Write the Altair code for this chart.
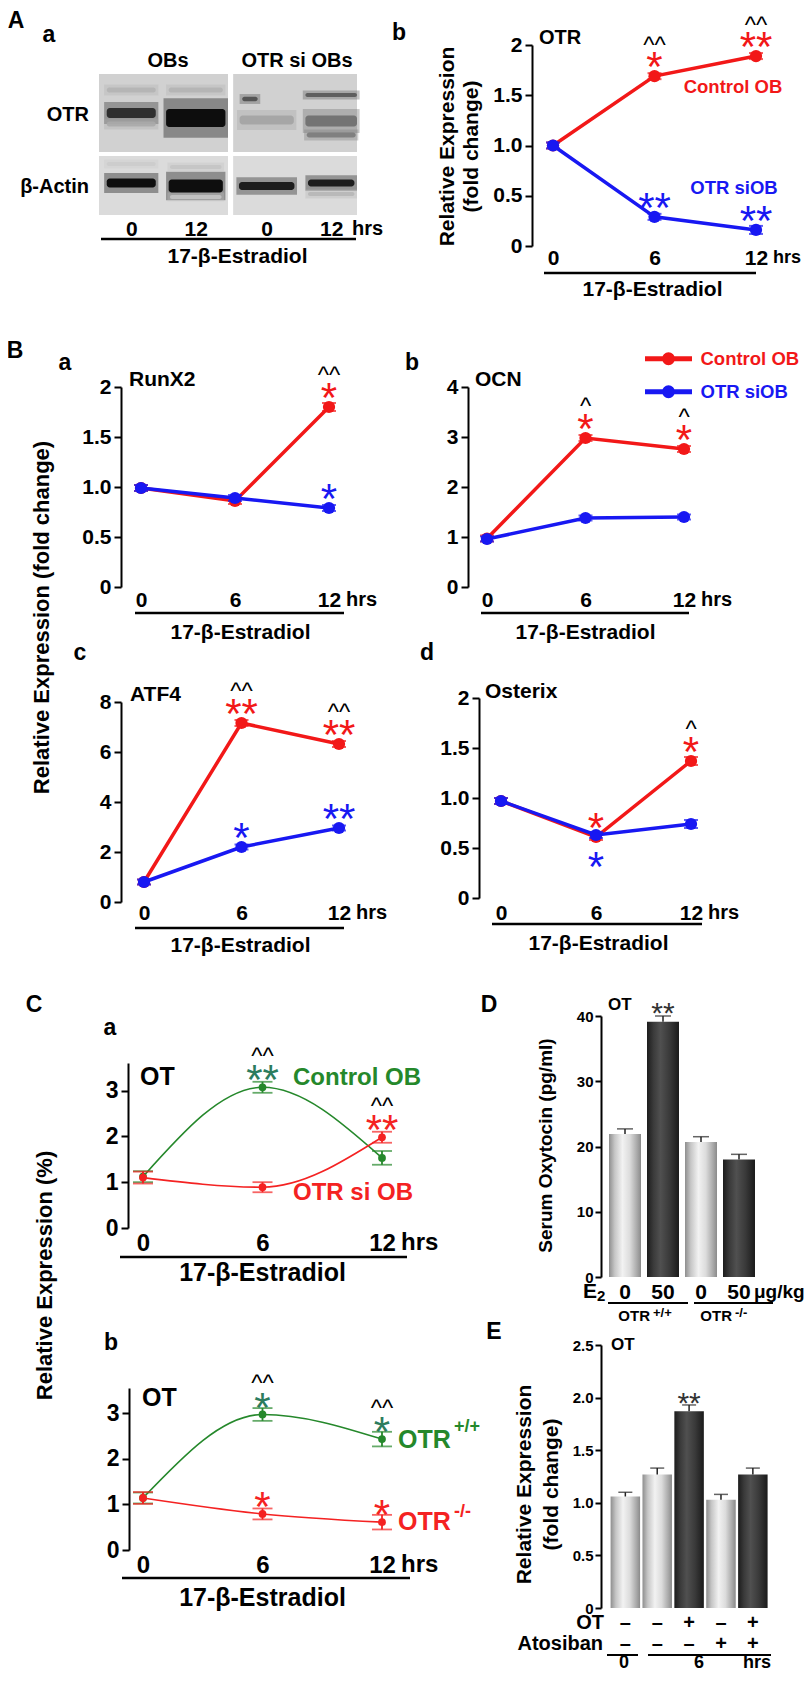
import altair as alt
import pandas as pd

W, H = 796, 1667
M = 8


def p(v):
    return v - M


FONT = "Liberation Sans, Arial, Helvetica, sans-serif"
RED = "#f21818"
BLUE = "#1818f2"
CGREEN = "#25882b"
GSTAR = "#2c7c5e"
CRED = "#f42222"

hours = [0, 6, 12]

# ---------------- data ----------------
# A(b) OTR
ab_ctrl = [1.00, 1.69, 1.89]
ab_ctrl_err = [0.03, 0.03, 0.03]
ab_si = [1.00, 0.29, 0.16]
ab_si_err = [0.03, 0.03, 0.04]
# B(a) RunX2
ba_ctrl = [0.99, 0.86, 1.80]
ba_ctrl_err = [0.03, 0.03, 0.04]
ba_si = [0.99, 0.89, 0.79]
ba_si_err = [0.03, 0.03, 0.03]
# B(b) OCN
bb_ctrl = [0.97, 2.98, 2.76]
bb_ctrl_err = [0.06, 0.06, 0.06]
bb_si = [0.96, 1.38, 1.40]
bb_si_err = [0.05, 0.05, 0.05]
# B(c) ATF4
bc_ctrl = [0.80, 7.16, 6.32]
bc_ctrl_err = [0.1, 0.12, 0.12]
bc_si = [0.80, 2.20, 2.96]
bc_si_err = [0.1, 0.1, 0.1]
# B(d) Osterix
bd_ctrl = [0.97, 0.61, 1.37]
bd_ctrl_err = [0.03, 0.03, 0.04]
bd_si = [0.97, 0.63, 0.74]
bd_si_err = [0.03, 0.03, 0.04]
# C(a) OT
ca_ctrl = [1.12, 3.07, 1.53]
ca_ctrl_err = [0.12, 0.12, 0.15]
ca_si = [1.10, 0.89, 1.98]
ca_si_err = [0.13, 0.11, 0.12]
# C(b) OT
cb_ctrl = [1.14, 2.97, 2.43]
cb_ctrl_err = [0.12, 0.14, 0.16]
cb_si = [1.14, 0.79, 0.61]
cb_si_err = [0.13, 0.12, 0.16]
# D serum oxytocin
d_geno = ["OTR +/+", "OTR +/+", "OTR -/-", "OTR -/-"]
d_dose = [0, 50, 0, 50]
d_val = [21.9, 39.1, 20.7, 18.0]
d_err = [0.8, 0.9, 0.8, 0.8]
d_sig = ["", "**", "", ""]
# E OT expression
e_time = [0, 6, 6, 6, 6]
e_ot = ["–", "–", "+", "–", "+"]
e_ato = ["–", "–", "–", "+", "+"]
e_val = [1.06, 1.27, 1.87, 1.03, 1.27]
e_err = [0.04, 0.06, 0.06, 0.05, 0.06]
e_sig = ["", "", "**", "", ""]
# western blot (A a): lane index, migration, half width, thickness, intensity
lanes = [0.5, 1.5, 2.6, 3.6]
lane_labels = ["0", "12", "0", "12"]
band_lane = [0, 1, 2, 3, 0, 1, 2, 3, 0, 3, 0, 1, 2, 3, 0, 1, 1, 3]
band_shift = [0, 0, 0, 0, 0, 0, -0.26, 0, 0, 0, 0, 0, 0, 0, 0, 0, 0, 0]
band_mig = [3.9, 4.4, 4.6, 4.7, 1.6, 1.6, 2.5, 2.1, 5.0, 6.1,
            10.9, 11.2, 11.2, 10.9, 9.0, 9.3, 12.3, 12.0]
band_hw = [0.38, 0.46, 0.42, 0.40, 0.38, 0.42, 0.12, 0.40, 0.38, 0.38,
           0.38, 0.42, 0.43, 0.36, 0.38, 0.40, 0.40, 0.36]
band_th = [1.0, 1.8, 0.9, 1.1, 0.5, 0.5, 0.45, 0.4, 0.5, 0.5,
           0.9, 1.3, 0.8, 0.7, 0.4, 0.4, 0.4, 0.4]
band_int = [0.85, 1.0, 0.28, 0.5, 0.22, 0.22, 0.65, 0.6, 0.25, 0.45,
            1.0, 1.0, 0.95, 0.95, 0.12, 0.15, 0.15, 0.2]

DUMMY = pd.DataFrame({"k": [0]})


def sdf(vals, errs, name, sig=None, hat=None, below=None):
    n = len(vals)
    d = pd.DataFrame({"hrs": hours, "value": vals, "err": errs, "series": [name] * n,
                      "sig": sig or [""] * n, "hat": hat or [""] * n, "below": below or [""] * n})
    d["lo"] = d["value"] - d["err"]
    d["hi"] = d["value"] + d["err"]
    return d


def yaxis_kw(axis_x, values, expr, fs, tick=7, pad=3):
    return dict(orient="left", offset=-p(axis_x), values=values, labelExpr=expr,
                domain=True, domainColor="black", domainWidth=2, ticks=True, tickColor="black",
                tickWidth=2, tickSize=tick, labelFont=FONT, labelFontSize=fs, labelFontWeight="bold",
                labelColor="black", labelPadding=pad, grid=False, labelFlush=False, labelOverlap=False)


def add_ytitle(kw, axis_x, tx, ty, fs, lh=24):
    kw.update(titleX=tx - axis_x, titleY=p(ty), titleAngle=270, titleAlign="center",
              titleBaseline="middle", titleFont=FONT, titleFontSize=fs, titleFontWeight="bold",
              titleColor="black", titleLineHeight=lh)
    return kw


def xaxis_kw(lab_y, fs, values=None, expr=None, tx=None, ty=None, tfs=21):
    kw = dict(orient="bottom", offset=p(lab_y) - H, domain=False, ticks=False, tickSize=0,
              labelPadding=0, labelBaseline="middle", labelAngle=0, labelFont=FONT, labelFontSize=fs,
              labelFontWeight="bold", labelColor="black", labelFlush=False, labelOverlap=False, grid=False)
    if values is not None:
        kw["values"] = values
    if expr is not None:
        kw["labelExpr"] = expr
    if tx is not None:
        kw.update(titleX=p(tx), titleY=ty - lab_y, titleAlign="center", titleBaseline="middle",
                  titleFont=FONT, titleFontSize=tfs, titleFontWeight="bold", titleColor="black")
    return kw


def txt(s, x, y, fs, color="black", align="left", weight="bold", baseline="middle"):
    return alt.Chart(DUMMY).mark_text(text=s, font=FONT, fontSize=fs, color=color, align=align,
                                      fontWeight=weight, baseline=baseline).encode(
        x=alt.value(p(x)), y=alt.value(p(y)))


def hline(x1, x2, y, w=2.5):
    return alt.Chart(DUMMY).mark_rule(color="black", strokeWidth=w).encode(
        x=alt.value(p(x1)), x2=alt.value(p(x2)), y=alt.value(p(y)))


def line_panel(c):
    xsc = alt.Scale(domain=[0, 12], range=[p(c["x0"]), p(c["x12"])], nice=False, zero=False)
    ysc = alt.Scale(domain=c["ydom"], range=[p(c["ybot"]), p(c["ytop"])], nice=False, zero=False)
    ykw = yaxis_kw(c["axis_x"], c["yvals"], c["yexpr"], c["yfs"])
    if c.get("ytitle") is not None:
        add_ytitle(ykw, c["axis_x"], c["ytx"], c["yty"], c["ytfs"], c.get("ylh", 24))
    xkw = xaxis_kw(c["xlab_y"], c["xfs"], values=hours, tx=c["tx"], ty=c["ty"], tfs=c["tfs"])
    Xn = alt.X("hrs:Q", scale=xsc, axis=None)
    Yv = alt.Y("value:Q", scale=ysc, axis=None)
    Ylo = alt.Y("lo:Q", scale=ysc, axis=None)
    Yhi = alt.Y("hi:Q", scale=ysc, axis=None)
    layers = []
    for i, s in enumerate(c["series"]):
        base = alt.Chart(s["df"])
        col = s["color"]
        if i == 0:
            X = alt.X("hrs:Q", scale=xsc, axis=alt.Axis(**xkw), title="17-β-Estradiol")
            Y = alt.Y("value:Q", scale=ysc, axis=alt.Axis(**ykw), title=c.get("ytitle"))
        else:
            X = Xn
            Y = Yv
        enc = dict(x=X, y=Y)
        if "legend" in s:
            enc["color"] = alt.Color("series:N", scale=alt.Scale(domain=[s["name"]], range=[col]),
                                     legend=s["legend"])
            line = base.mark_line(strokeWidth=c["lw"], interpolate=c["interp"]).encode(**enc)
        else:
            line = base.mark_line(color=col, strokeWidth=c["lw"], interpolate=c["interp"]).encode(**enc)
        rule = base.mark_rule(color=col, strokeWidth=c["ew"]).encode(x=Xn, y=Ylo, y2=alt.Y2("hi"))
        c1 = base.mark_tick(color=col, orient="horizontal", size=c["cap"], thickness=c["ew"]).encode(x=Xn, y=Ylo)
        c2 = base.mark_tick(color=col, orient="horizontal", size=c["cap"], thickness=c["ew"]).encode(x=Xn, y=Yhi)
        pts = base.mark_point(filled=True, opacity=1, size=c["pt"], color=col).encode(x=Xn, y=Yv)
        sc = s.get("star_color", col)
        sfs, hfs = c["star_fs"], c["hat_fs"]
        sig = base.mark_text(font=FONT, fontSize=sfs, color=sc, baseline="alphabetic",
                             dy=c["star_dy"] + 0.575 * sfs).encode(x=Xn, y=Yv, text="sig:N")
        hat = base.mark_text(font=FONT, fontSize=hfs, color="black", baseline="alphabetic",
                             dy=c["hat_dy"] + 0.52 * hfs).encode(x=Xn, y=Yv, text="hat:N")
        below = base.mark_text(font=FONT, fontSize=sfs, color=sc, baseline="alphabetic",
                               dy=c["below_dy"] + 0.575 * sfs).encode(x=Xn, y=Yv, text="below:N")
        layers += [line, rule, c1, c2, pts, sig, hat, below]
    return layers


AB_STYLE = dict(lw=3.5, pt=150, cap=14, ew=2, interp="linear", star_fs=42, hat_fs=24,
                star_dy=-19, hat_dy=-36, below_dy=22, xfs=21, tfs=21, yfs=21)
C_STYLE = dict(lw=1.6, pt=60, cap=20, ew=1.8, interp="monotone", star_fs=42, hat_fs=24,
               star_dy=-17, hat_dy=-36, below_dy=22, xfs=24, tfs=25, yfs=23)
E1 = "datum.value == 0 || datum.value == 2 ? format(datum.value, 'd') : format(datum.value, '.1f')"

LEG_PATH = "M-2,0L2,0M-0.34,0A0.34,0.34,0,1,1,0.34,0A0.34,0.34,0,1,1,-0.34,0Z"


def legend(color, y):
    return alt.Legend(orient="none", legendX=p(654), legendY=p(y - 11.75), title=None,
                      symbolType=LEG_PATH, symbolSize=552, symbolStrokeWidth=5,
                      symbolFillColor=color, symbolStrokeColor=color, labelFont=FONT,
                      labelFontSize=18.5, labelFontWeight="bold", labelColor=color,
                      labelOffset=17.5, padding=0)


units = []

# ---- A(b)
units += line_panel(dict(
    AB_STYLE,
    series=[dict(df=sdf(ab_ctrl, ab_ctrl_err, "Control OB", ["", "*", "**"], ["", "^^", "^^"]), color=RED),
            dict(df=sdf(ab_si, ab_si_err, "OTR siOB", ["", "**", "**"]), color=BLUE)],
    x0=553, x12=756, ydom=[0, 2], ybot=246, ytop=45, axis_x=532,
    yvals=[0, 0.5, 1, 1.5, 2], yexpr=E1,
    xlab_y=258, tx=652, ty=289,
    ytitle=["Relative Expression", "(fold change)"], ytx=447, yty=146, ytfs=21, ylh=24))

# ---- B(a)
units += line_panel(dict(
    AB_STYLE,
    series=[dict(df=sdf(ba_ctrl, ba_ctrl_err, "Control OB", ["", "", "*"], ["", "", "^^"]), color=RED),
            dict(df=sdf(ba_si, ba_si_err, "OTR siOB", ["", "", "*"]), color=BLUE)],
    x0=141, x12=329, ydom=[0, 2], ybot=587, ytop=387, axis_x=121,
    yvals=[0, 0.5, 1, 1.5, 2], yexpr=E1,
    xlab_y=600, tx=240, ty=632,
    ytitle="Relative Expression  (fold change)", ytx=41, yty=617, ytfs=22))

# ---- B(b) with legend
units += line_panel(dict(
    AB_STYLE,
    series=[dict(df=sdf(bb_ctrl, bb_ctrl_err, "Control OB", ["", "*", "*"], ["", "^", "^"]), color=RED,
                 name="Control OB", legend=legend(RED, 356)),
            dict(df=sdf(bb_si, bb_si_err, "OTR siOB"), color=BLUE,
                 name="OTR siOB", legend=legend(BLUE, 389))],
    x0=487, x12=684, ydom=[0, 4], ybot=587, ytop=387, axis_x=468,
    yvals=[0, 1, 2, 3, 4], yexpr="datum.label",
    xlab_y=600, tx=585, ty=632))

# ---- B(c)
units += line_panel(dict(
    AB_STYLE,
    series=[dict(df=sdf(bc_ctrl, bc_ctrl_err, "Control OB", ["", "**", "**"], ["", "^^", "^^"]), color=RED),
            dict(df=sdf(bc_si, bc_si_err, "OTR siOB", ["", "*", "**"]), color=BLUE)],
    x0=144, x12=339, ydom=[0, 8], ybot=902, ytop=702, axis_x=121,
    yvals=[0, 2, 4, 6, 8], yexpr="datum.label",
    xlab_y=913, tx=240, ty=945))

# ---- B(d)
units += line_panel(dict(
    AB_STYLE,
    series=[dict(df=sdf(bd_ctrl, bd_ctrl_err, "Control OB", ["", "*", "*"], ["", "", "^"]), color=RED),
            dict(df=sdf(bd_si, bd_si_err, "OTR siOB", below=["", "*", ""]), color=BLUE)],
    x0=501, x12=691, ydom=[0, 2], ybot=898, ytop=698, axis_x=479,
    yvals=[0, 0.5, 1, 1.5, 2], yexpr=E1,
    xlab_y=913, tx=598, ty=943))

# ---- C(a)
units += line_panel(dict(
    C_STYLE,
    series=[dict(df=sdf(ca_ctrl, ca_ctrl_err, "Control OB", ["", "**", ""], ["", "^^", ""]),
                 color=CGREEN, star_color=GSTAR),
            dict(df=sdf(ca_si, ca_si_err, "OTR si OB", ["", "", "**"], ["", "", "^^"]), color=CRED)],
    x0=143, x12=382, ydom=[0, 3.6], ybot=1228, ytop=1063, axis_x=128,
    yvals=[0, 1, 2, 3], yexpr="datum.label",
    xlab_y=1243, tx=262, ty=1272,
    ytitle="Relative Expression (%)", ytx=44, yty=1275, ytfs=22))

# ---- C(b)
units += line_panel(dict(
    C_STYLE,
    series=[dict(df=sdf(cb_ctrl, cb_ctrl_err, "OTR+/+", ["", "*", "*"], ["", "^^", "^^"]),
                 color=CGREEN, star_color=GSTAR),
            dict(df=sdf(cb_si, cb_si_err, "OTR-/-", ["", "*", "*"]), color=CRED)],
    x0=143, x12=382, ydom=[0, 3.55], ybot=1550, ytop=1388, axis_x=129,
    yvals=[0, 1, 2, 3], yexpr="datum.label",
    xlab_y=1565, tx=262, ty=1597))

# ---- gradients for bar panels
LIGHT = alt.LinearGradient(gradient="linear", x1=0, x2=1, y1=0, y2=0, stops=[
    alt.GradientStop(color="#8e8e8e", offset=0),
    alt.GradientStop(color="#c6c6c6", offset=0.18),
    alt.GradientStop(color="#f2f2f2", offset=0.42),
    alt.GradientStop(color="#dcdcdc", offset=0.65),
    alt.GradientStop(color="#a8a8a8", offset=0.88),
    alt.GradientStop(color="#8a8a8a", offset=1)])
DARK = alt.LinearGradient(gradient="linear", x1=0, x2=1, y1=0, y2=0, stops=[
    alt.GradientStop(color="#1c1c1c", offset=0),
    alt.GradientStop(color="#3a3a3a", offset=0.2),
    alt.GradientStop(color="#505050", offset=0.42),
    alt.GradientStop(color="#3a3a3a", offset=0.7),
    alt.GradientStop(color="#1a1a1a", offset=1)])

# ---- D
ddf = pd.DataFrame({"geno": d_geno, "dose": d_dose, "value": d_val, "err": d_err, "sig": d_sig})
ddf["key"] = ddf["geno"] + " " + ddf["dose"].astype(str)
ddf["hi"] = ddf["value"] + ddf["err"]
d_keys = list(ddf["key"])
dxs = alt.Scale(domain=d_keys, range=[p(606), p(758)], paddingInner=0.158, paddingOuter=0.079)
dys = alt.Scale(domain=[0, 40], range=[p(1277), p(1016)], nice=False)
dykw = add_ytitle(yaxis_kw(601, [0, 10, 20, 30, 40], "datum.label", 15, tick=6, pad=2), 601, 545, 1145, 19)
dxkw = xaxis_kw(1292, 21, expr="split(datum.value, ' ')[2]")
dX = alt.X("key:N", scale=dxs, axis=None)
dbase = alt.Chart(ddf)
units += [
    dbase.transform_filter("datum.dose == 0").mark_bar(color=LIGHT).encode(
        x=alt.X("key:N", scale=dxs, axis=alt.Axis(**dxkw), title=None),
        y=alt.Y("value:Q", scale=dys, axis=alt.Axis(**dykw), title="Serum Oxytocin (pg/ml)")),
    dbase.transform_filter("datum.dose == 50").mark_bar(color=DARK).encode(
        x=dX, y=alt.Y("value:Q", scale=dys, axis=None)),
    dbase.mark_rule(color="#222222", strokeWidth=1.5).encode(
        x=dX, y=alt.Y("value:Q", scale=dys, axis=None), y2=alt.Y2("hi")),
    dbase.mark_tick(color="#222222", orient="horizontal", size=16, thickness=1.5).encode(
        x=dX, y=alt.Y("hi:Q", scale=dys, axis=None)),
    dbase.mark_text(font=FONT, fontSize=30, color="#333333", baseline="alphabetic", dy=-10 + 0.575 * 30).encode(
        x=dX, y=alt.Y("hi:Q", scale=dys, axis=None), text="sig:N"),
]

# ---- E
edf = pd.DataFrame({"time": e_time, "ot": e_ot, "ato": e_ato, "value": e_val, "err": e_err, "sig": e_sig})
edf["key"] = edf["time"].astype(str) + " " + edf["ot"] + " " + edf["ato"]
edf["hi"] = edf["value"] + edf["err"]
e_keys = list(edf["key"])
exs = alt.Scale(domain=e_keys, range=[p(609.4), p(768.8)], paddingInner=0.075, paddingOuter=0.0375)
eys = alt.Scale(domain=[0, 2.5], range=[p(1608), p(1345)], nice=False)
eykw = add_ytitle(yaxis_kw(601, [0, 0.5, 1, 1.5, 2, 2.5],
                           "datum.value == 0 ? '0' : format(datum.value, '.1f')", 15, tick=6, pad=2),
                  601, 524, 1484, 21, lh=27)
eX = alt.X("key:N", scale=exs, axis=None)
ebase = alt.Chart(edf)
units += [
    ebase.transform_filter("datum.ot != '+'").mark_bar(color=LIGHT).encode(
        x=eX, y=alt.Y("value:Q", scale=eys, axis=alt.Axis(**eykw),
                      title=["Relative Expression", "(fold change)"])),
    ebase.transform_filter("datum.ot == '+'").mark_bar(color=DARK).encode(
        x=eX, y=alt.Y("value:Q", scale=eys, axis=None)),
    ebase.mark_rule(color="#222222", strokeWidth=1.5).encode(
        x=eX, y=alt.Y("value:Q", scale=eys, axis=None), y2=alt.Y2("hi")),
    ebase.mark_tick(color="#222222", orient="horizontal", size=14, thickness=1.5).encode(
        x=eX, y=alt.Y("hi:Q", scale=eys, axis=None)),
    ebase.mark_text(font=FONT, fontSize=30, color="#333333", baseline="alphabetic", dy=-9 + 0.575 * 30).encode(
        x=eX, y=alt.Y("hi:Q", scale=eys, axis=None), text="sig:N"),
    ebase.mark_text(font=FONT, fontSize=20, fontWeight="bold", color="black").encode(
        x=eX, y=alt.value(p(1623)), text="ot:N"),
    ebase.mark_text(font=FONT, fontSize=20, fontWeight="bold", color="black").encode(
        x=eX, y=alt.value(p(1644)), text="ato:N"),
]

# ---- blot (A a)
bx = alt.Scale(domain=[0, 4], range=[p(99), p(357)], nice=False, zero=False)
by = alt.Scale(domain=[0, 14.1], range=[p(74), p(215)], nice=False, zero=False)
tone = alt.Scale(domain=[0, 1], range=["#ebebeb", "#000000"])
mem = pd.DataFrame({"x0": [0, 2.08, 0, 2.08], "x1": [2.0, 4.0, 2.0, 4.0],
                    "y0": [0, 0, 8.2, 8.2], "y1": [7.8, 7.8, 14.1, 14.1], "inten": [0.1, 0.1, 0.06, 0.06]})
bands = pd.DataFrame({"x": [lanes[i] + s for i, s in zip(band_lane, band_shift)], "mig": band_mig,
                      "hw": band_hw, "th": band_th, "inten": band_int})
bands["bx0"] = bands["x"] - bands["hw"]
bands["bx1"] = bands["x"] + bands["hw"]
bands["by0"] = bands["mig"] - bands["th"] / 2
bands["by1"] = bands["mig"] + bands["th"] / 2
bands["hx0"] = bands["x"] - bands["hw"] - 0.04
bands["hx1"] = bands["x"] + bands["hw"] + 0.04
bands["hy0"] = bands["mig"] - bands["th"] * 1.1
bands["hy1"] = bands["mig"] + bands["th"] * 1.1
lane_expr = "datum.value < 1 ? '%s' : datum.value < 2 ? '%s' : datum.value < 3 ? '%s' : '%s'" % tuple(lane_labels)
bxkw = xaxis_kw(229, 21, values=lanes, expr=lane_expr, tx=237, ty=256, tfs=21)
units = [
    alt.Chart(mem).mark_rect().encode(
        x=alt.X("x0:Q", scale=bx, axis=alt.Axis(**bxkw), title="17-β-Estradiol"), x2=alt.X2("x1"),
        y=alt.Y("y0:Q", scale=by, axis=None), y2=alt.Y2("y1"),
        color=alt.Color("inten:Q", scale=tone, legend=None)),
    alt.Chart(bands).mark_rect(opacity=0.35).encode(
        x=alt.X("hx0:Q", scale=bx, axis=None), x2=alt.X2("hx1"),
        y=alt.Y("hy0:Q", scale=by, axis=None), y2=alt.Y2("hy1"),
        color=alt.Color("inten:Q", scale=tone, legend=None)),
    alt.Chart(bands).mark_rect(opacity=0.9, cornerRadius=3).encode(
        x=alt.X("bx0:Q", scale=bx, axis=None), x2=alt.X2("bx1"),
        y=alt.Y("by0:Q", scale=by, axis=None), y2=alt.Y2("by1"),
        color=alt.Color("inten:Q", scale=tone, legend=None)),
] + units

# ---- free text and underlines
deco = []
for s, x, y in [("A", 16, 21), ("a", 49, 35), ("b", 399, 33), ("B", 15, 351), ("a", 65, 363),
                ("b", 412, 363), ("c", 80, 653), ("d", 427, 653), ("C", 34, 1005), ("a", 110, 1028),
                ("D", 489, 1005), ("b", 111, 1343), ("E", 494, 1332)]:
    deco.append(txt(s, x, y, 23, align="center"))
deco += [
    txt("OBs", 168, 61, 20, align="center"),
    txt("OTR si OBs", 297, 61, 20, align="center"),
    txt("OTR", 89, 115, 20, align="right"),
    txt("β-Actin", 89, 187, 20, align="right"),
    txt("hrs", 352, 229, 20),
    hline(101, 356, 239),
    txt("OTR", 539, 38, 20),
    txt("Control OB", 733, 87, 18.5, color=RED, align="center"),
    txt("OTR siOB", 734, 188, 18.5, color=BLUE, align="center"),
    txt("hrs", 773, 258, 18),
    hline(544, 756, 273),
    txt("RunX2", 129, 380, 21),
    txt("OCN", 475, 380, 21),
    txt("ATF4", 130, 695, 21),
    txt("Osterix", 485, 692, 21),
    txt("hrs", 346, 600, 20), hline(135, 344, 613),
    txt("hrs", 701, 600, 20), hline(481, 689, 613),
    txt("hrs", 356, 913, 20), hline(135, 344, 928),
    txt("hrs", 708, 913, 20), hline(492, 702, 924),
    txt("OT", 140, 1077, 25),
    txt("Control OB", 293, 1078, 24, color=CGREEN),
    txt("OTR si OB", 293, 1193, 24, color=CRED),
    txt("hrs", 401, 1243, 24), hline(120, 407, 1257),
    txt("OT", 142, 1398, 25),
    txt("OTR", 398, 1440, 25, color=CGREEN), txt("+/+", 454, 1427, 18, color=CGREEN),
    txt("OTR", 398, 1522, 25, color=CRED), txt("-/-", 454, 1512, 18, color=CRED),
    txt("hrs", 401, 1565, 24), hline(122, 410, 1578),
    txt("OT", 608, 1005, 17),
    txt("E", 597, 1292, 21, align="right"), txt("2", 597, 1296, 15),
    txt("μg/kg", 754, 1292, 19),
    hline(608, 688, 1303, 2), hline(694, 773, 1303, 2),
    txt("OTR", 650, 1316, 15, align="right"), txt("+/+", 653, 1313, 13),
    txt("OTR", 732, 1316, 15, align="right"), txt("-/-", 735, 1313, 13),
    txt("OT", 611, 1345, 17),
    txt("OT", 604, 1623, 20, align="right"),
    txt("Atosiban", 603, 1644, 20, align="right"),
    hline(607, 638, 1655, 2), hline(648, 771, 1655, 2),
    txt("0", 624, 1663, 18, align="center"),
    txt("6", 699, 1663, 18, align="center"),
    txt("hrs", 757, 1663, 18, align="center"),
]

chart = alt.layer(*units, *deco).resolve_scale(
    x="independent", y="independent", color="independent"
).resolve_axis(x="independent", y="independent").resolve_legend(color="independent").properties(
    width=W, height=H, autosize=alt.AutoSizeParams(type="none"), padding=0, background="white"
).configure_view(stroke=None)

chart.save("out.html", embed_options={"renderer": "svg", "actions": False})
